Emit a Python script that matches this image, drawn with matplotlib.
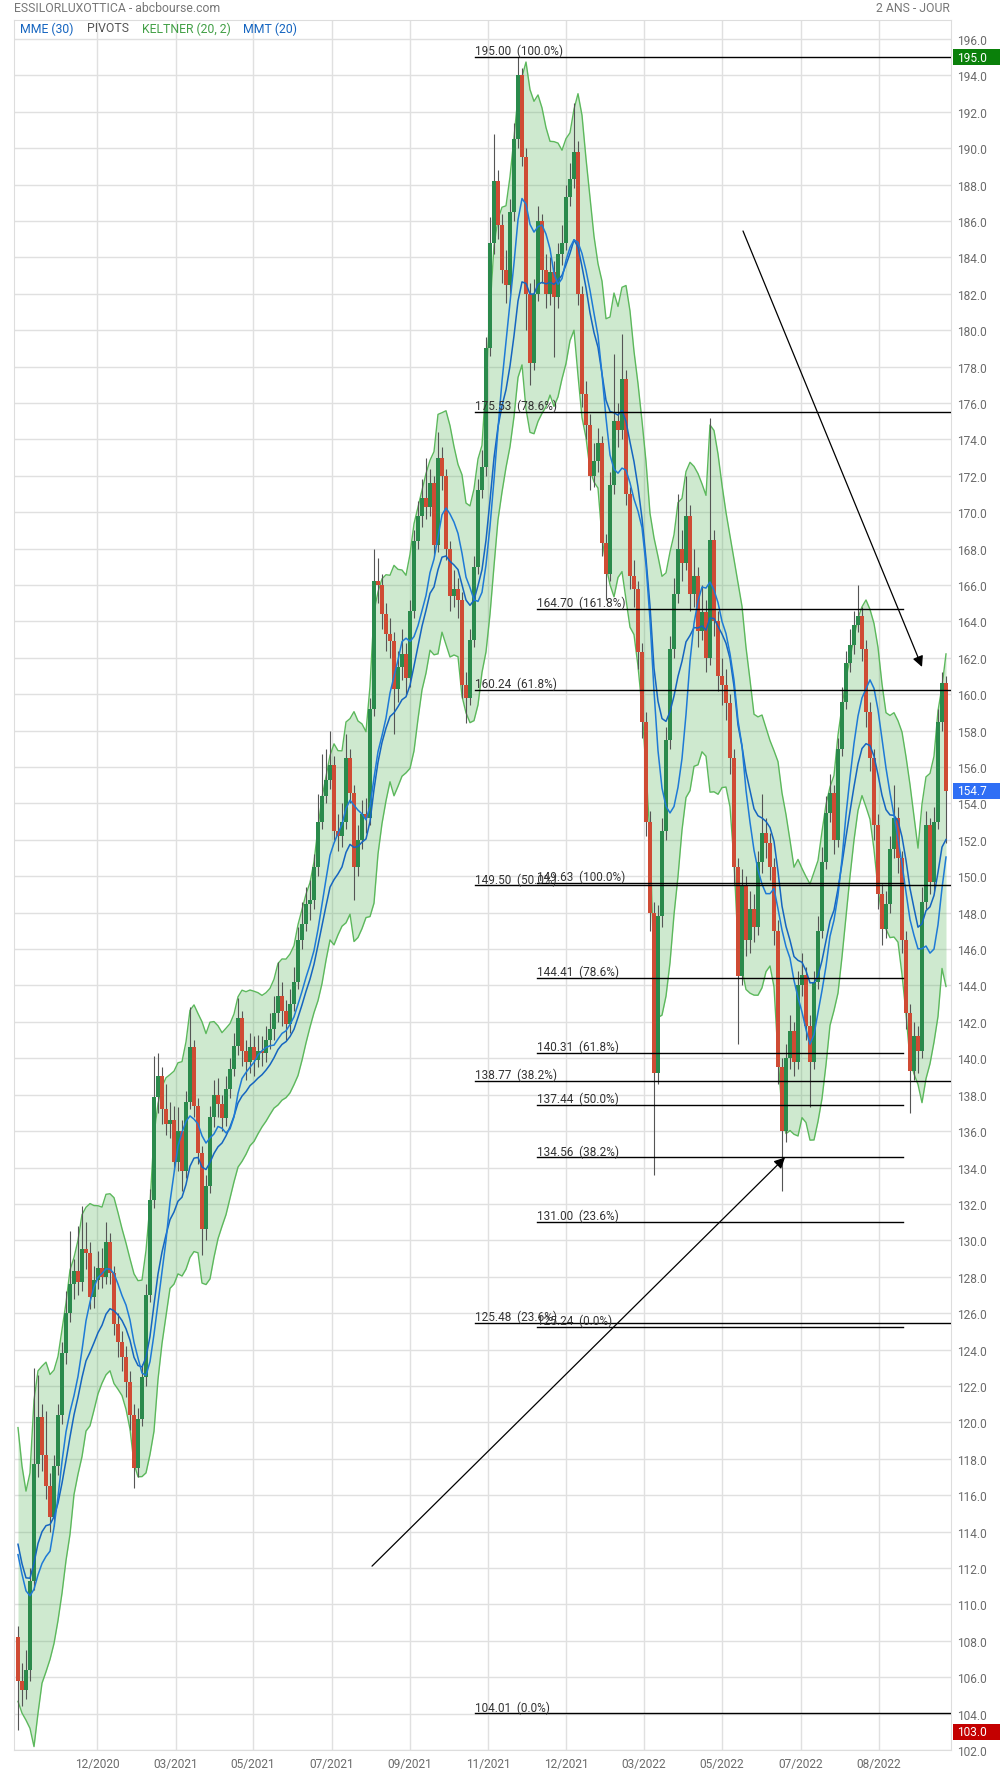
import matplotlib
matplotlib.use('Agg')
import matplotlib.pyplot as plt
from matplotlib.patches import Rectangle
import numpy as np
import pandas as pd

plt.rcParams['font.family'] = ['Roboto', 'DejaVu Sans']

# --- data (one bar ~ 2.2 trading days) ---
first_open = 108.2
closes = [
    105.8, 105.3, 106.4, 111.3, 117.7, 120.3, 118.2, 116.5, 114.8, 117.6,
    120.4, 123.8, 126.0, 127.6, 128.3, 127.7, 129.5, 129.3, 126.9, 127.8,
    128.5, 128.0, 129.9, 128.2, 125.4, 124.4, 123.6, 122.2, 120.4, 117.5,
    120.2, 122.5, 127.0, 132.2, 137.9, 139.0, 137.2, 136.4, 136.6, 134.3,
    136.0, 133.8, 137.6, 140.6, 137.4, 134.8, 130.6, 133.0, 136.8, 138.0,
    137.5, 136.7, 138.3, 139.4, 140.7, 142.2, 140.4, 139.8, 140.6, 139.9,
    140.4, 140.3, 141.0, 141.6, 142.5, 143.4, 142.6, 141.9, 143.0, 144.2,
    146.5, 147.4, 148.5, 148.7, 150.5, 153.0, 154.4, 155.3, 156.1, 152.5,
    152.2, 153.0, 156.5, 154.6, 150.5, 152.0, 153.4, 153.2, 159.2, 166.2,
    166.0, 164.4, 163.3, 162.9, 160.3, 161.5, 162.2, 160.9, 164.6, 168.4,
    169.8, 170.8, 170.3, 171.6, 168.2, 173.0, 172.0, 168.0, 165.4, 165.8,
    165.2, 160.5, 159.8, 163.0, 167.0, 171.2, 172.5, 179.0, 184.8, 188.2,
    185.8, 183.3, 182.5, 186.5, 190.5, 194.0, 189.5, 182.0, 178.2, 182.0,
    186.0, 183.3, 182.0, 183.2, 181.8, 184.2, 184.8, 187.3, 188.3, 189.8,
    182.0, 176.5, 174.8, 172.0, 172.8, 173.8, 168.3, 166.6, 171.5, 175.0,
    174.5, 177.3, 171.0, 166.5, 165.8, 162.3, 158.5, 153.0, 148.0, 139.2,
    147.8, 152.5, 157.5, 162.5, 165.5, 168.0, 167.2, 169.8, 165.5, 166.5,
    163.5, 164.5, 162.0, 168.5, 164.0, 161.0, 160.5, 159.5, 156.5, 150.5,
    144.5, 149.5, 146.5, 148.2, 147.2, 150.8, 152.4, 151.8, 150.5, 147.0,
    139.5, 136.0, 140.0, 141.5, 139.8, 144.0, 144.6, 141.8, 139.8, 144.2,
    147.0, 150.8, 153.5, 154.6, 152.0, 157.0, 159.6, 161.7, 162.7, 163.8,
    164.3, 162.5, 159.0, 156.5, 152.8, 149.0, 147.1, 148.5, 151.5, 153.2,
    151.0, 146.5, 142.5, 139.3, 141.2, 140.4, 148.6, 152.8, 149.7, 153.0,
    158.5, 160.6, 154.7,
]
highs = [
    108.8, 106.8, 107.5, 112.0, 123.0, 122.6, 121.0, 120.6, 117.2, 118.2,
    121.0, 124.4, 127.2, 130.5, 129.0, 130.8, 131.9, 131.0, 129.9, 128.6,
    129.4, 129.6, 131.0, 130.4, 128.6, 126.0, 125.0, 124.2, 122.8, 121.0,
    120.8, 123.2, 127.6, 132.8, 140.1, 140.3, 139.5, 138.6, 137.6, 137.4,
    137.3, 136.6, 138.2, 142.8, 141.0, 137.8, 135.2, 133.6, 137.4, 138.8,
    138.9, 138.0, 139.0, 140.0, 141.4, 143.3, 142.6, 141.0, 141.4, 141.2,
    141.3, 141.2, 141.8, 142.5, 143.4, 145.3, 144.2, 143.2, 143.8, 145.0,
    147.2, 148.6, 149.4, 149.8, 151.2, 154.5, 156.7, 157.0, 158.0, 156.6,
    153.4, 154.0, 157.8, 157.0, 155.0, 152.8, 154.2, 154.3, 159.8, 168.0,
    167.5, 166.6, 165.0, 164.2, 163.4, 162.4, 163.6, 162.8, 165.2, 169.0,
    170.6, 171.8, 173.0, 172.4, 172.0, 174.4, 173.6, 172.4, 168.4, 166.8,
    166.4, 165.6, 161.2, 163.6, 167.6, 171.8, 173.4, 179.6, 186.2, 190.8,
    188.8, 186.4, 184.4, 187.2, 191.4, 195.0, 194.4, 190.0, 182.6, 182.8,
    186.8, 186.4, 184.2, 184.0, 183.8, 184.8, 185.8, 188.0, 189.2, 192.5,
    190.4, 182.4, 177.2, 175.4, 173.8, 174.6, 174.2, 168.8, 172.2, 178.7,
    176.0, 179.8, 177.8, 171.4, 167.4, 166.2, 162.8, 159.0, 153.6, 148.6,
    148.4, 153.2, 158.2, 163.2, 166.4, 171.0, 169.0, 172.0, 170.4, 168.0,
    167.0, 166.0, 165.2, 175.2, 169.0, 164.6, 162.0, 161.4, 160.0, 157.0,
    151.0, 150.4, 150.0, 149.2, 149.0, 151.4, 154.5, 153.2, 152.4, 151.0,
    147.6, 140.0, 140.8, 142.4, 142.0, 144.8, 145.8, 145.0, 142.4, 144.8,
    147.8, 151.6, 154.4, 155.6, 155.0, 157.6, 160.4, 162.4, 163.6, 164.6,
    166.0, 164.8, 163.0, 159.6, 157.0, 153.4, 149.6, 149.2, 152.2, 155.0,
    153.8, 151.4, 147.0, 143.0, 142.0, 141.8, 149.4, 153.6, 153.2, 153.8,
    159.2, 161.2, 161.0,
]
lows = [
    103.1, 104.4, 104.8, 105.8, 110.8, 117.0, 117.3, 115.8, 114.0, 114.3,
    117.1, 119.9, 123.2, 125.5, 126.8, 127.0, 127.2, 128.4, 126.2, 126.3,
    127.3, 127.4, 127.6, 127.6, 124.8, 123.6, 122.8, 121.4, 119.6, 116.4,
    117.0, 119.8, 122.0, 126.6, 131.8, 137.0, 136.4, 135.8, 135.6, 133.8,
    133.8, 132.7, 133.4, 137.2, 136.8, 134.2, 129.2, 130.0, 132.6, 136.2,
    136.8, 136.0, 136.3, 137.8, 139.0, 140.2, 139.6, 138.8, 139.2, 139.0,
    139.5, 139.6, 139.8, 140.5, 141.0, 142.0, 141.8, 141.0, 141.4, 142.6,
    143.8, 146.0, 147.0, 147.6, 148.2, 150.0, 152.6, 154.0, 154.8, 152.0,
    151.4, 151.6, 152.6, 154.0, 148.7, 150.0, 151.5, 152.4, 152.8, 158.8,
    165.0, 163.6, 162.4, 162.0, 157.8, 159.6, 160.8, 160.0, 160.4, 164.2,
    168.0, 169.2, 169.6, 169.8, 167.6, 167.8, 171.2, 167.4, 164.6, 164.8,
    164.2, 159.8, 158.4, 159.4, 162.6, 166.6, 170.8, 172.0, 178.6, 184.2,
    185.0, 182.6, 181.5, 182.0, 186.0, 190.0, 189.0, 180.0, 177.0, 177.8,
    181.6, 182.6, 181.2, 181.4, 178.5, 181.2, 183.6, 184.4, 186.8, 187.8,
    181.4, 175.8, 174.0, 171.2, 171.4, 172.2, 167.6, 165.2, 166.2, 171.0,
    173.6, 174.0, 170.4, 165.8, 164.8, 161.4, 157.6, 152.2, 147.0, 133.6,
    138.6, 147.2, 152.0, 157.0, 162.0, 165.0, 166.2, 166.8, 164.6, 164.8,
    162.6, 163.0, 161.2, 161.6, 163.2, 160.2, 159.4, 158.6, 155.6, 149.6,
    140.8, 144.0, 145.6, 145.8, 146.4, 146.8, 150.2, 151.0, 149.8, 146.2,
    138.6, 132.7, 135.4, 139.4, 139.0, 139.4, 143.4, 141.0, 137.3, 139.4,
    143.8, 146.6, 150.4, 153.0, 151.2, 151.6, 156.6, 159.2, 161.2, 162.2,
    163.4, 161.8, 158.2, 155.8, 152.0, 148.2, 146.2, 146.6, 148.0, 151.0,
    150.2, 145.8, 141.6, 137.0, 138.8, 139.2, 140.0, 148.2, 149.0, 149.2,
    152.6, 158.0, 151.8,
]

# bars before the visible window (only used to warm up the indicators)
warmup_closes = [117.0, 116.2, 115.0, 114.6, 113.8, 114.4, 113.2, 112.6, 113.0, 112.2]
warmup_highs = [118.8, 118.0, 116.8, 116.4, 115.6, 116.2, 115.0, 114.4, 114.8, 114.0]
warmup_lows = [115.2, 114.4, 113.2, 112.8, 112.0, 112.6, 111.4, 110.8, 111.2, 110.4]

tick_labels = ['12/2020', '03/2021', '05/2021', '07/2021', '09/2021', '11/2021',
               '12/2021', '03/2022', '05/2022', '07/2022', '08/2022']
tick_bars = [19.75, 39.5, 58.75, 78.5, 98.0, 117.5, 137.0, 156.5, 176.0, 195.75, 215.25]

fib_left_levels = [195.00, 175.53, 160.24, 149.50, 138.77, 125.48, 104.01]
fib_left_pcts = ['100.0%', '78.6%', '61.8%', '50.0%', '38.2%', '23.6%', '0.0%']
fib_right_levels = [164.70, 149.63, 144.41, 140.31, 137.44, 134.56, 131.00, 125.24]
fib_right_pcts = ['161.8%', '100.0%', '78.6%', '61.8%', '50.0%', '38.2%', '23.6%', '0.0%']

tag_values = [195.0, 154.7, 103.0]
tag_colors = ['#0a800a', '#2f6ff5', '#c40000']

# arrows: (bar, price) start -> tip
arrow_starts = [(181.25, 185.45), (88.5, 112.1)]
arrow_tips = [(226.0, 161.5), (191.75, 134.55)]

# --- styles ---
GREEN = '#2a8a4c'
RED = '#cf4b34'
WICK = '#555555'
BAND = '#5cb85c'
BLUE1 = '#1565c0'
BLUE2 = '#1e7ad6'
GRID = '#e0e0e0'
TEXT = '#6b6b6b'
BAR_DAYS = 2.2
ATR_TO_DAILY = 1.25  # a 2.2-day bar has a wider range than a daily one

# --- indicators ---
n_warm = len(warmup_closes)
all_c = pd.Series(warmup_closes + closes)
all_h = pd.Series(warmup_highs + highs)
all_l = pd.Series(warmup_lows + lows)
mme = all_c.ewm(span=round(30 / BAR_DAYS), adjust=False).mean().values[n_warm:]
mmt = all_c.rolling(round(20 / BAR_DAYS)).mean().values[n_warm:]
prev_c = all_c.shift(1)
tr = pd.concat([all_h - all_l, (all_h - prev_c).abs(), (all_l - prev_c).abs()], axis=1).max(axis=1)
k_span = round(20 / BAR_DAYS)
atr = tr.ewm(span=k_span, adjust=False).mean() / ATR_TO_DAILY
mid = all_c.ewm(span=k_span, adjust=False).mean()
upper = (mid + 2 * atr).values[n_warm:]
lower = (mid - 2 * atr).values[n_warm:]

c = np.array(closes)
o = np.r_[first_open, c[:-1]]
h = np.array(highs)
l = np.array(lows)
x = np.arange(len(c))

fig = plt.figure(figsize=(10, 17.74), dpi=100)
ax = fig.add_axes([0.014, 0.01297, 0.937, 0.97519])

ax.fill_between(x, lower, upper, color='#4caf50', alpha=0.27, lw=0, zorder=1)
ax.plot(x, upper, color=BAND, lw=1, zorder=2)
ax.plot(x, lower, color=BAND, lw=1, zorder=2)

ax.vlines(x, l, h, color=WICK, lw=0.8, zorder=3)
up = c >= o
ax.bar(x[up], (c - o)[up], bottom=o[up], width=0.88, color=GREEN, lw=0, zorder=4)
ax.bar(x[~up], (o - c)[~up], bottom=c[~up], width=0.88, color=RED, lw=0, zorder=4)

ax.plot(x, mme, color=BLUE1, lw=1.1, zorder=5)
ax.plot(x, mmt, color=BLUE2, lw=1.1, zorder=5)

# fibonacci / pivot lines
left_start, right_start, right_end = 114.25, 129.75, 221.25
for lvl, pct in zip(fib_left_levels, fib_left_pcts):
    ax.plot([left_start, 240], [lvl, lvl], color='black', lw=1, zorder=6)
    ax.annotate(f'{lvl:.2f}  ({pct})', (left_start, lvl), xytext=(0, 2),
                textcoords='offset points', fontsize=8.5, color='#333333', va='baseline', zorder=7)
for lvl, pct in zip(fib_right_levels, fib_right_pcts):
    ax.plot([right_start, right_end], [lvl, lvl], color='black', lw=1, zorder=6)
    ax.annotate(f'{lvl:.2f}  ({pct})', (right_start, lvl), xytext=(0, 2),
                textcoords='offset points', fontsize=8.5, color='#333333', va='baseline', zorder=7)

for start, tip in zip(arrow_starts, arrow_tips):
    ax.annotate('', xy=tip, xytext=start,
                arrowprops=dict(arrowstyle='-|>', color='black', lw=0.9,
                                shrinkA=0, shrinkB=0, mutation_scale=16), zorder=8)

ax.set_xlim(-1.0, 233.25)
ax.set_ylim(102.0, 197.04)
ax.set_xticks(tick_bars)
ax.set_xticklabels(tick_labels)
yt = np.arange(102, 197, 2)
ax.set_yticks(yt)
ax.set_yticklabels([f'{v:.1f}' for v in yt])
ax.yaxis.tick_right()
ax.tick_params(axis='y', length=0, pad=4.5, labelsize=8.6, labelcolor=TEXT)
ax.tick_params(axis='x', length=0, pad=5, labelsize=8.6, labelcolor=TEXT)
ax.grid(True, color=GRID, lw=1, zorder=0)
ax.set_axisbelow(True)
for sp in ax.spines.values():
    sp.set_color('#dddddd')

# price tags on the right axis
for val, col in zip(tag_values, tag_colors):
    ax.add_patch(Rectangle((1.0021, val - 0.45), 0.06, 0.9, transform=ax.get_yaxis_transform(),
                           facecolor=col, edgecolor='none', clip_on=False, zorder=10))
    ax.text(1.0066, val, f'{val:.1f}', transform=ax.get_yaxis_transform(), color='white',
            fontsize=8.6, va='center', ha='left', zorder=11)

# header and legend
fig.text(0.014, 1 - 9 / 1774, 'ESSILORLUXOTTICA - abcbourse.com', fontsize=8.8,
         color='#777777', va='center', ha='left')
fig.text(0.950, 1 - 9 / 1774, '2 ANS - JOUR', fontsize=8.8, color='#777777', va='center', ha='right')
legend_items = [('MME (30)', BLUE1, 0.020), ('PIVOTS', '#555555', 0.087),
                ('KELTNER (20, 2)', '#43a047', 0.142), ('MMT (20)', BLUE1, 0.243)]
for txt, col, xpos in legend_items:
    fig.text(xpos, 1 - 29 / 1774, txt, fontsize=8.8, color=col, va='center', ha='left')

fig.savefig('out.png', dpi=100)
